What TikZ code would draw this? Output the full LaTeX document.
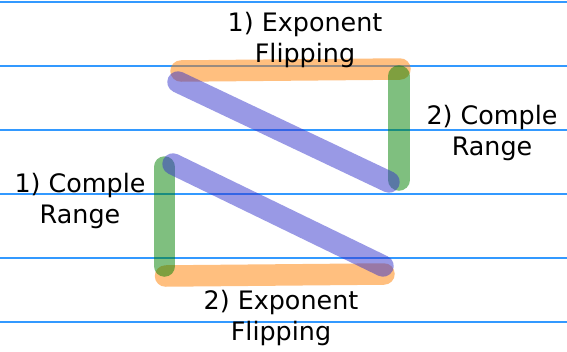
\documentclass[tikz,border=0pt]{standalone}
\usepackage{fontspec}
\setmainfont{DejaVu Sans}
\usepackage{xcolor}
\usepackage{tikz}
\usetikzlibrary{positioning}
\definecolor{guideblue}{RGB}{51,153,255}
\definecolor{flipcol}{RGB}{255,127,0}
\definecolor{rangecol}{RGB}{0,128,0}
\definecolor{zigcol}{RGB}{51,51,204}

\begin{document}
\begin{tikzpicture}[
  x=1pt,y=-1pt,
  font=\fontsize{25.4}{30.5}\selectfont,
  guide/.style={guideblue,line width=1.4pt},
  flipbar/.style={flipcol,line width=21.5pt,line cap=round,opacity=0.5},
  rangebar/.style={rangecol,line width=21.5pt,line cap=round,opacity=0.5},
  zigbar/.style={zigcol,line width=21.5pt,line cap=round,opacity=0.5},
  lbl/.style={align=center,inner sep=0pt}
]
\useasboundingbox (0,0) rectangle (567,351);

% ---- guide lines ----
\foreach \y in {2,66,130,194,258,322}
  \draw[guide] (0,\y) -- (567,\y);

% ---- corners ----
\coordinate (tl) at (181,71);
\coordinate (tr) at (400,69);
\coordinate (rt) at (399,76);
\coordinate (rb) at (399,180);
\coordinate (za) at (178,82);
\coordinate (zb) at (389,182);
\coordinate (lt) at (164.5,167);
\coordinate (lb) at (164.5,266);
\coordinate (zc) at (173,164);
\coordinate (zd) at (383,266);
\coordinate (bl) at (165.5,276);
\coordinate (br) at (384,274);

% ---- strokes ----
\draw[flipbar] (tl) -- (tr);
\draw[flipbar] (bl) -- (br);
\draw[rangebar] (rt) -- (rb);
\draw[rangebar] (lt) -- (lb);
\draw[zigbar] (za) -- (zb);
\draw[zigbar] (zc) -- (zd);

% ---- labels ----
\node[lbl] (flipa) at (305,40) {1) Exponent\\Flipping};
\node[lbl] (rangeb) at (492,133) {2) Comple\\Range};
\node[lbl] (rangea) at (80,201) {1) Comple\\Range};
\node[lbl] (flipb) at (281,318) {2) Exponent\\Flipping};

\end{tikzpicture}
\end{document}
